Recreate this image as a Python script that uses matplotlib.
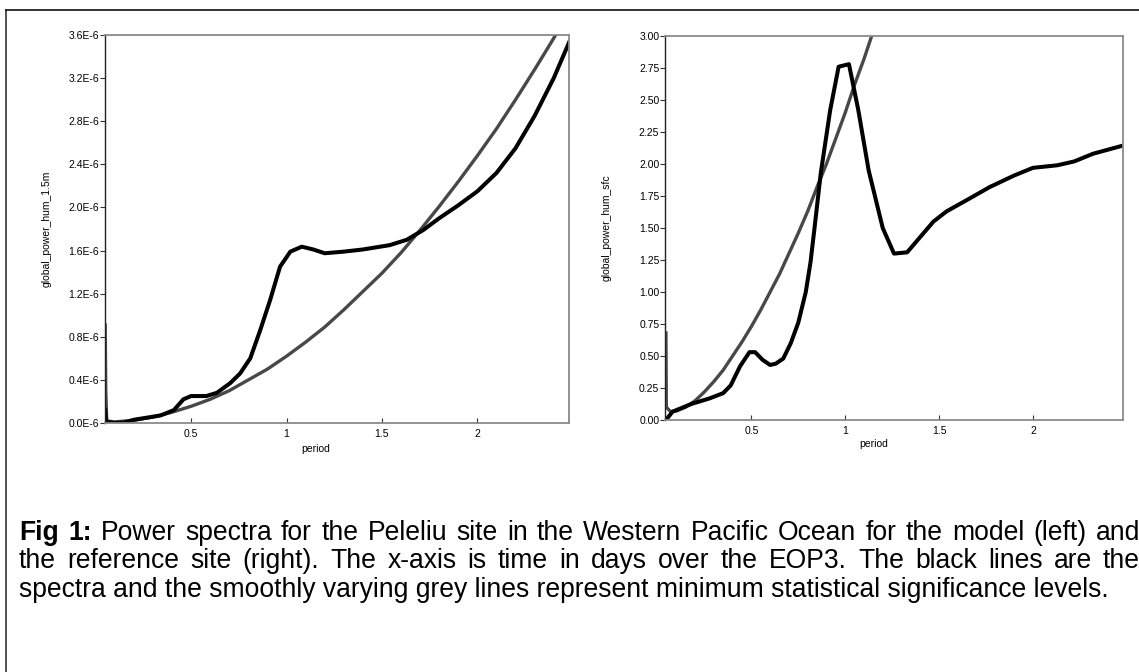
import matplotlib
matplotlib.use("Agg")
import matplotlib.pyplot as plt
from matplotlib.lines import Line2D

plt.rcParams['font.family'] = ['Liberation Sans', 'DejaVu Sans']

# left panel: model at Peleliu (power in units of 1E-6)
model_period = [0.05, 0.055, 0.1, 0.15, 0.2, 0.27, 0.34, 0.41, 0.46, 0.5, 0.58, 0.635,
                0.705, 0.757, 0.81, 0.862, 0.914, 0.966, 1.02, 1.08, 1.14, 1.2, 1.3,
                1.4, 1.54, 1.63, 1.716, 1.8, 1.9, 2.0, 2.1, 2.2, 2.3, 2.4, 2.48]
model_power = [0.12, 0.01, 0.0, 0.005, 0.03, 0.05, 0.07, 0.12, 0.22, 0.25, 0.25, 0.28,
               0.37, 0.46, 0.60, 0.86, 1.14, 1.45, 1.59, 1.636, 1.61, 1.575, 1.59,
               1.61, 1.65, 1.70, 1.79, 1.90, 2.02, 2.15, 2.32, 2.55, 2.85, 3.2, 3.53]
model_sig_period = [0.05, 0.053, 0.058, 0.1, 0.2, 0.3, 0.4, 0.5, 0.6, 0.7, 0.8, 0.9, 1.0,
                    1.1, 1.2, 1.3, 1.4, 1.5, 1.6, 1.7, 1.8, 1.9, 2.0, 2.1, 2.2, 2.3, 2.4, 2.5]
model_sig = [0.91, 0.3, 0.02, 0.01, 0.025, 0.055, 0.10, 0.155, 0.22, 0.30, 0.40, 0.50, 0.62,
             0.75, 0.89, 1.05, 1.22, 1.39, 1.58, 1.79, 2.01, 2.24, 2.48, 2.73, 3.0, 3.28, 3.57, 3.88]

# right panel: reference site
ref_period = [0.045, 0.08, 0.18, 0.28, 0.35, 0.39, 0.44, 0.49, 0.52, 0.56, 0.60, 0.63, 0.67,
              0.71, 0.75, 0.79, 0.815, 0.835, 0.87, 0.92, 0.965, 1.02, 1.07, 1.125, 1.2,
              1.26, 1.33, 1.47, 1.54, 1.65, 1.77, 1.90, 2.0, 2.13, 2.22, 2.32, 2.47]
ref_power = [0.0, 0.065, 0.125, 0.17, 0.21, 0.27, 0.42, 0.53, 0.53, 0.47, 0.43, 0.44, 0.48,
             0.60, 0.76, 1.0, 1.23, 1.48, 1.93, 2.42, 2.76, 2.78, 2.42, 1.95, 1.50,
             1.30, 1.31, 1.55, 1.63, 1.72, 1.82, 1.91, 1.97, 1.99, 2.02, 2.08, 2.14]
ref_sig_period = [0.045, 0.047, 0.07, 0.1, 0.15, 0.2, 0.25, 0.3, 0.35, 0.4, 0.45, 0.5, 0.55,
                  0.6, 0.65, 0.7, 0.75, 0.8, 0.85, 0.9, 0.95, 1.0, 1.05, 1.1, 1.15, 1.2]
ref_sig = [0.68, 0.10, 0.065, 0.07, 0.10, 0.15, 0.22, 0.30, 0.39, 0.50, 0.61, 0.73, 0.86,
           1.00, 1.14, 1.30, 1.46, 1.63, 1.82, 2.00, 2.20, 2.40, 2.62, 2.82, 3.04, 3.26]

x_ticks = [0.5, 1, 1.5, 2]
x_tick_labels = ['0.5', '1', '1.5', '2']
left_yticks = [0.0, 0.4, 0.8, 1.2, 1.6, 2.0, 2.4, 2.8, 3.2, 3.6]
right_yticks = [0.0, 0.25, 0.5, 0.75, 1.0, 1.25, 1.5, 1.75, 2.0, 2.25, 2.5, 2.75, 3.0]

cap_lines = ["Fig 1: Power spectra for the Peleliu site in the Western Pacific Ocean for the model (left) and",
             "the reference site (right). The x-axis is time in days over the EOP3. The black lines are the",
             "spectra and the smoothly varying grey lines represent minimum statistical significance levels."]

W, H = 1139, 672
fig = plt.figure(figsize=(W / 100, H / 100), dpi=100)


def px_box(l, t, r, b):
    return [l / W, 1 - b / H, (r - l) / W, (b - t) / H]


axL = fig.add_axes(px_box(105, 35, 569, 423))
axR = fig.add_axes(px_box(665, 36, 1123, 420))


def style(ax, xlim, ylim, yticks, ylabels, ylabel, ylab_x, xlab_y):
    ax.set_xlim(*xlim)
    ax.set_ylim(*ylim)
    ax.set_xticks(x_ticks)
    ax.set_xticklabels(x_tick_labels)
    ax.set_yticks(yticks)
    ax.set_yticklabels(ylabels)
    ax.tick_params(axis='x', direction='in', length=3.6, width=0.8, pad=4,
                   labelsize=7.5, color='#333333')
    ax.tick_params(axis='y', direction='out', length=3.6, width=0.8, pad=0.5,
                   labelsize=7.5, color='#333333')
    for s in ['top', 'right', 'bottom']:
        ax.spines[s].set_color('#8a8a8a')
        ax.spines[s].set_linewidth(1.3)
    ax.spines['left'].set_color('#222222')
    ax.spines['left'].set_linewidth(1.0)
    ax.set_xlabel('period', fontsize=7.5)
    ax.xaxis.set_label_coords(0.455, xlab_y)
    ax.set_ylabel(ylabel, fontsize=7.5)
    ax.yaxis.set_label_coords(ylab_x, 0.5)


axL.plot(model_sig_period, model_sig, color='#484848', lw=2.4, solid_joinstyle='round')
axL.plot(model_period, model_power, color='black', lw=2.9, solid_joinstyle='round')
style(axL, (0.049, 2.48), (0, 3.6), left_yticks,
      ['%.1fE-6' % v for v in left_yticks], 'global_power_hum_1.5m', -0.114, -0.054)

axR.plot(ref_sig_period, ref_sig, color='#484848', lw=2.4, solid_joinstyle='round')
axR.plot(ref_period, ref_power, color='black', lw=2.9, solid_joinstyle='round')
style(axR, (0.04, 2.48), (0, 3.0), right_yticks,
      ['%.2f' % v for v in right_yticks], 'global_power_hum_sfc', -0.117, -0.05)

# page frame
fig.add_artist(Line2D([6 / W, 6 / W], [0, 1 - 10 / H], transform=fig.transFigure,
                      color='#333333', lw=1.2))
fig.add_artist(Line2D([6 / W, 1], [1 - 10 / H, 1 - 10 / H], transform=fig.transFigure,
                      color='#111111', lw=1.2))

# caption, justified like the document text
renderer = fig.canvas.get_renderer()


def text_width(s, size, weight='normal'):
    t = fig.text(0, 0, s, fontsize=size, weight=weight)
    w = t.get_window_extent(renderer).width
    t.remove()
    return w


x0, x1 = 19, 1140
size = 17 * 1093 / text_width(cap_lines[2], 17)
baselines = [540, 568, 597]

for i, line in enumerate(cap_lines):
    yb = 1 - baselines[i] / H
    if i == 2:
        fig.text(x0 / W, yb, line, fontsize=size, va='baseline')
        continue
    words = line.split()
    weights = ['bold' if (i == 0 and k < 2) else 'normal' for k in range(len(words))]
    widths = [text_width(w, size, wt) for w, wt in zip(words, weights)]
    gap = (x1 - x0 - sum(widths)) / (len(words) - 1)
    x = x0
    for w, wt, wd in zip(words, weights, widths):
        fig.text(x / W, yb, w, fontsize=size, weight=wt, va='baseline')
        x += wd + gap

fig.savefig('out.png', dpi=100)
